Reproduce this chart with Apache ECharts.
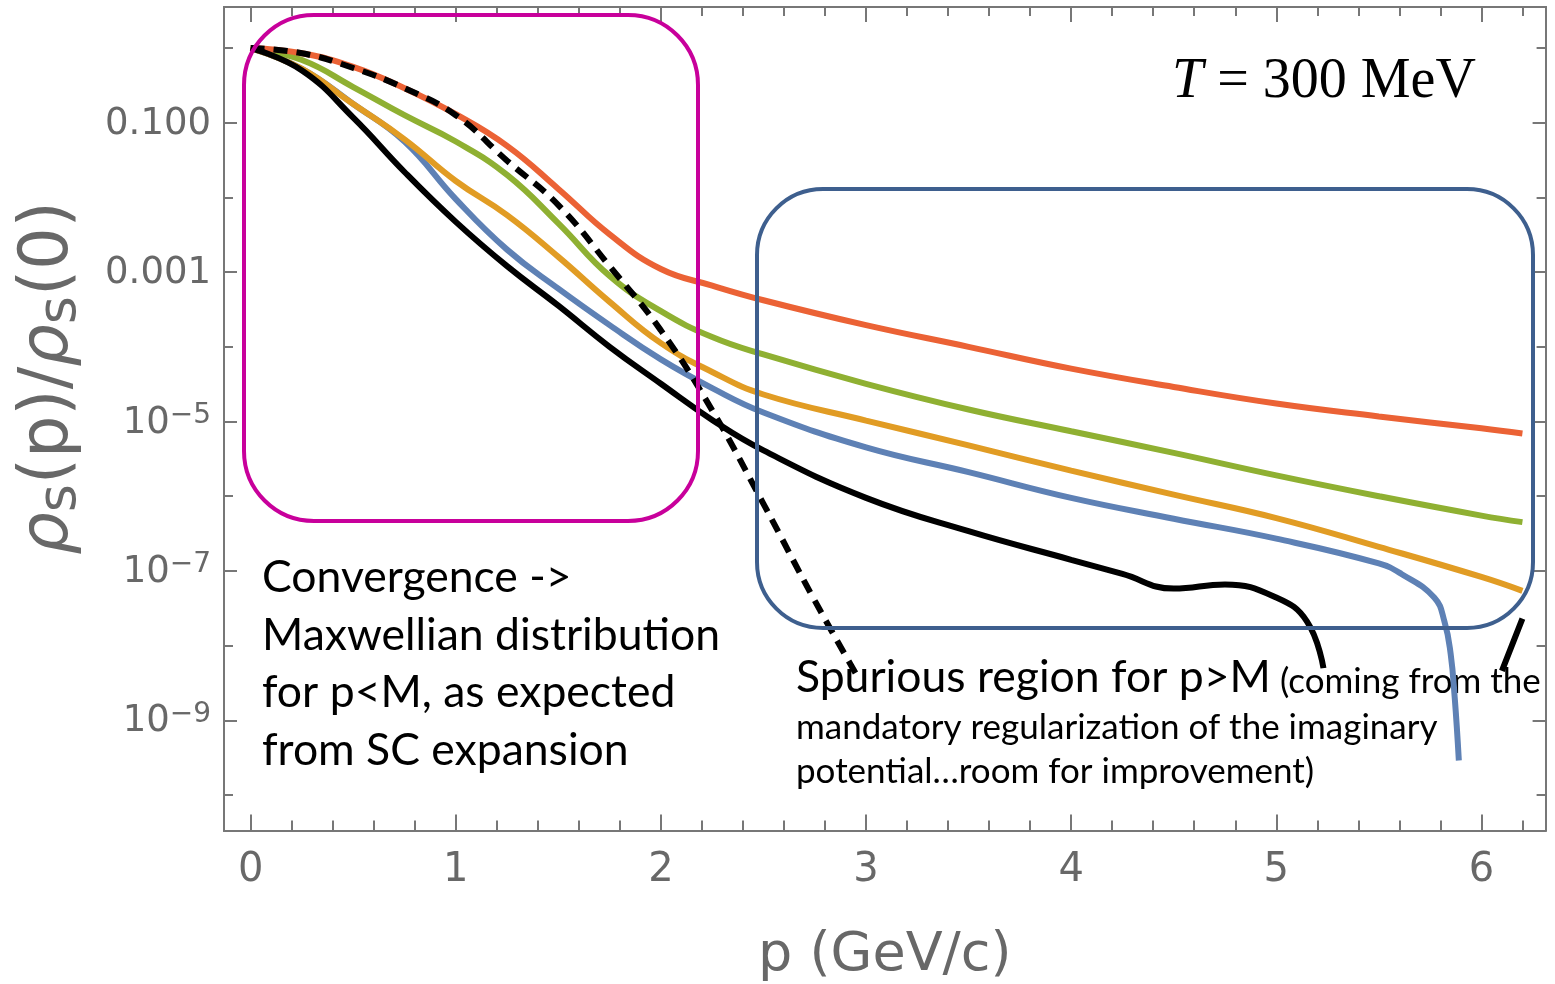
<!DOCTYPE html>
<html>
<head>
<meta charset="utf-8">
<script src="https://cdn.jsdelivr.net/npm/echarts@6/dist/echarts.min.js"></script>
<style>
  html, body { margin: 0; padding: 0; background: #fff; }
  #chart { width: 1555px; height: 984px; }
</style>
</head>
<body>
<div id="chart"></div>
<script>
// Momentum distributions rho_s(p)/rho_s(0) at T = 300 MeV (log scale)
const pGrid = [0, 0.25, 0.5, 0.75, 1, 1.25, 1.5, 1.75, 2, 2.25, 2.5, 3, 3.5, 4, 4.5, 5, 5.5, 6, 6.2];

const redVals   = [1, 0.85, 0.56, 0.29, 0.13, 0.049, 0.013, 3.2e-3, 1.1e-3, 6.6e-4, 4.2e-4, 1.95e-4, 1.0e-4, 5.1e-5, 2.9e-5, 1.74e-5, 1.17e-5, 8.1e-6, 6.9e-6];
const greenVals = [1, 0.69, 0.30, 0.126, 0.056, 0.020, 4.5e-3, 8.9e-4, 3.0e-4, 1.35e-4, 7.9e-5, 3.2e-5, 1.45e-5, 7.4e-6, 3.8e-6, 1.9e-6, 1.0e-6, 5.5e-7, 4.5e-7];
const amberVals = [1, 0.525, 0.178, 0.06, 0.0166, 5.8e-3, 1.6e-3, 4.0e-4, 1.12e-4, 4.6e-5, 2.3e-5, 1.03e-5, 4.8e-6, 2.2e-6, 1.05e-6, 5.1e-7, 2.1e-7, 8.3e-8, 5.4e-8];

const blueP     = [0, 0.25, 0.5, 0.75, 1, 1.25, 1.5, 1.75, 2, 2.25, 2.5, 3, 3.5, 4, 4.5, 5, 5.5, 5.61, 5.77, 5.82, 5.85, 5.87, 5.89];
const blueVals  = [1, 0.525, 0.178, 0.056, 9.5e-3, 2.0e-3, 6.0e-4, 1.95e-4, 6.8e-5, 2.8e-5, 1.32e-5, 4.5e-6, 2.1e-6, 9.5e-7, 5.0e-7, 2.7e-7, 1.26e-7, 9.1e-8, 4.4e-8, 2.1e-8, 7.8e-9, 2.0e-9, 2.9e-10];

// the SC result turns negative between ~5.25 and ~6.1 GeV/c (gap in the curve)
const blackP    = [0, 0.25, 0.5, 0.75, 1, 1.25, 1.5, 1.75, 2, 2.25, 2.5, 3, 3.5, 4, 4.25, 4.5, 4.75, 5, 5.15, 5.23, 5.6, 6.1, 6.2];
const blackVals = [1, 0.5, 0.117, 0.0219, 4.7e-3, 1.2e-3, 3.55e-4, 1.0e-4, 3.2e-5, 1.05e-5, 4.1e-6, 9.5e-7, 3.4e-7, 1.41e-7, 9.1e-8, 5.8e-8, 6.6e-8, 4.4e-8, 2.1e-8, 5e-9, null, 4.6e-9, 2.3e-8];

// Maxwellian reference
const maxwP     = [0, 0.25, 0.5, 0.75, 1, 1.25, 1.5, 1.75, 2, 2.25, 2.5, 2.75, 2.97];
const maxwVals  = [1, 0.85, 0.54, 0.29, 0.126, 0.031, 7.9e-3, 1.2e-3, 1.66e-4, 1.41e-5, 7.9e-7, 4e-8, 3.4e-9];

// axis ticks
const xMajor = [0, 1, 2, 3, 4, 5, 6];
const xMinor = [0.2, 0.4, 0.6, 0.8, 1.2, 1.4, 1.6, 1.8, 2.2, 2.4, 2.6, 2.8, 3.2, 3.4, 3.6, 3.8, 4.2, 4.4, 4.6, 4.8, 5.2, 5.4, 5.6, 5.8, 6.2];
const yDecades = [-10, -9, -8, -7, -6, -5, -4, -3, -2, -1, 0];
const yLabelled = [-9, -7, -5, -3, -1];
const yLabelText = { '-1': '0.100', '-3': '0.001' };

const X_MIN = -0.130, X_MAX = 6.313;
const Y_MIN = -10.475, Y_MAX = 0.549;

function toLog(ps, vs) {
  return ps.map((p, i) => [p, vs[i] == null ? null : Math.log10(vs[i])]);
}

const AXIS_GRAY = '#777777';
const LABEL_GRAY = '#686868';

function xAxisDef(pos, ticks, len, labels) {
  return {
    type: 'value', position: pos, min: X_MIN, max: X_MAX,
    axisLine: { show: true, onZero: false, lineStyle: { color: AXIS_GRAY, width: 2 } },
    axisTick: { show: true, inside: true, length: len, customValues: ticks, lineStyle: { color: AXIS_GRAY, width: 2 } },
    axisLabel: labels ? {
      show: true, customValues: ticks, margin: 20,
      fontFamily: 'DejaVu Sans', fontSize: 40, color: LABEL_GRAY,
      formatter: v => String(Math.round(v))
    } : { show: false },
    splitLine: { show: false }
  };
}

function yAxisDef(pos, ticks, len, labels) {
  return {
    type: 'value', position: pos, min: Y_MIN, max: Y_MAX,
    axisLine: { show: true, onZero: false, lineStyle: { color: AXIS_GRAY, width: 2 } },
    axisTick: { show: true, inside: true, length: len, customValues: ticks, lineStyle: { color: AXIS_GRAY, width: 2 } },
    axisLabel: labels ? {
      show: true, customValues: ticks, margin: 13,
      fontFamily: 'DejaVu Sans', fontSize: 37, color: LABEL_GRAY,
      formatter: v => {
        const e = Math.round(v);
        if (yLabelText[e] !== undefined) return '{b|' + yLabelText[e] + '}';
        return '{b|10}{sup|\u2212' + (-e) + '}';
      },
      rich: {
        b: { fontFamily: 'DejaVu Sans', fontSize: 37, lineHeight: 40, color: LABEL_GRAY, verticalAlign: 'bottom' },
        sup: { fontFamily: 'DejaVu Sans', fontSize: 28, lineHeight: 28, color: LABEL_GRAY, verticalAlign: 'top', padding: [0, 0, 18, 0] }
      }
    } : { show: false },
    splitLine: { show: false }
  };
}

const lineBase = { type: 'line', showSymbol: false, smooth: 0.45, xAxisIndex: 0, yAxisIndex: 0, animation: false, silent: true };

const chart = echarts.init(document.getElementById('chart'), null, { renderer: 'canvas' });

chart.setOption({
  backgroundColor: '#ffffff',
  animation: false,
  grid: { left: 224, right: 9.4, top: 7, bottom: 153.5, containLabel: false, outerBoundsMode: 'none' },
  xAxis: [
    Object.assign(xAxisDef('bottom', xMajor, 16, true), {
      name: 'p (GeV/c)', nameLocation: 'middle', nameGap: 98,
      nameTextStyle: { fontFamily: 'DejaVu Sans', fontSize: 54, color: LABEL_GRAY }
    }),
    xAxisDef('bottom', xMinor, 10, false),
    xAxisDef('top', xMajor, 15, false),
    xAxisDef('top', xMinor, 9, false)
  ],
  yAxis: [
    yAxisDef('left', yDecades, 9, false),
    yAxisDef('left', yLabelled, 13, true),
    yAxisDef('right', yDecades, 9, false),
    yAxisDef('right', yLabelled, 13, false)
  ],
  series: [
    Object.assign({}, lineBase, { name: 'blue', data: toLog(blueP, blueVals), lineStyle: { color: '#5E81B5', width: 6 }, z: 3 }),
    Object.assign({}, lineBase, { name: 'amber', data: toLog(pGrid, amberVals), lineStyle: { color: '#E19C24', width: 6 }, z: 4 }),
    Object.assign({}, lineBase, { name: 'green', data: toLog(pGrid, greenVals), lineStyle: { color: '#8FB032', width: 6 }, z: 5 }),
    Object.assign({}, lineBase, { name: 'red', data: toLog(pGrid, redVals), lineStyle: { color: '#EB6235', width: 6 }, z: 6 }),
    Object.assign({}, lineBase, { name: 'SC', data: toLog(blackP, blackVals), connectNulls: false, lineStyle: { color: '#000000', width: 6 }, z: 7 }),
    Object.assign({}, lineBase, { name: 'Maxwellian', data: toLog(maxwP, maxwVals), lineStyle: { color: '#000000', width: 6, type: [14, 9] }, z: 8 })
  ],
  graphic: [
    // y-axis title
    {
      type: 'text', x: 50, y: 378, rotation: Math.PI / 2, z: 1,
      style: {
        text: '{r|\u03c1}{s|s}(p)/{r|\u03c1}{s|s}(0)',
        fontFamily: 'DejaVu Sans', fontSize: 67, fill: LABEL_GRAY,
        align: 'center', verticalAlign: 'middle',
        rich: {
          r: { fontFamily: 'DejaVu Sans', fontStyle: 'italic', fontSize: 67, lineHeight: 67, fill: LABEL_GRAY },
          s: { fontFamily: 'DejaVu Sans', fontSize: 54, lineHeight: 54, padding: [22, 0, 0, 0], fill: LABEL_GRAY }
        }
      }
    },
    // temperature
    {
      type: 'text', x: 1172, y: 82, z: 1,
      style: {
        text: '{i|T}{n| = 300 MeV}',
        fontFamily: 'Liberation Serif', fontSize: 56, fill: '#000',
        align: 'left', verticalAlign: 'middle',
        rich: {
          i: { fontFamily: 'Liberation Serif', fontStyle: 'italic', fontSize: 56, fill: '#000' },
          n: { fontFamily: 'Liberation Serif', fontSize: 56, fill: '#000' }
        }
      }
    },
    // annotation texts
    { type: 'text', x: 262, y: 578, z: 1, style: { text: 'Convergence ->', fontFamily: 'Lato', fontSize: 44.5, fill: '#000', verticalAlign: 'middle' } },
    { type: 'text', x: 262, y: 635.5, z: 1, style: { text: 'Maxwellian distribution', fontFamily: 'Lato', fontSize: 44.5, fill: '#000', verticalAlign: 'middle' } },
    { type: 'text', x: 262, y: 693, z: 1, style: { text: 'for p<M, as expected', fontFamily: 'Lato', fontSize: 44.5, fill: '#000', verticalAlign: 'middle' } },
    { type: 'text', x: 262, y: 750.5, z: 1, style: { text: 'from SC expansion', fontFamily: 'Lato', fontSize: 44.5, fill: '#000', verticalAlign: 'middle' } },
    { type: 'text', x: 796, y: 678, z: 1, style: { text: 'Spurious region for p>M', fontFamily: 'Lato', fontSize: 44.5, fill: '#000', verticalAlign: 'middle' } },
    { type: 'text', x: 1280, y: 682, z: 1, style: { text: '(coming from the', fontFamily: 'Lato', fontSize: 35, fill: '#000', verticalAlign: 'middle' } },
    { type: 'text', x: 796, y: 728, z: 1, style: { text: 'mandatory regularization of the imaginary', fontFamily: 'Lato', fontSize: 35, fill: '#000', verticalAlign: 'middle' } },
    { type: 'text', x: 796, y: 772, z: 1, style: { text: 'potential\u2026room for improvement)', fontFamily: 'Lato', fontSize: 35, fill: '#000', verticalAlign: 'middle' } },
    // highlight boxes
    { type: 'rect', z: 100, shape: { x: 244, y: 15, width: 454, height: 506, r: 70 }, style: { fill: 'none', stroke: '#C8009B', lineWidth: 4 } },
    { type: 'rect', z: 100, shape: { x: 757, y: 189, width: 776, height: 439, r: 66 }, style: { fill: 'none', stroke: '#3E5F8E', lineWidth: 4 } }
  ]
});
</script>
</body>
</html>
